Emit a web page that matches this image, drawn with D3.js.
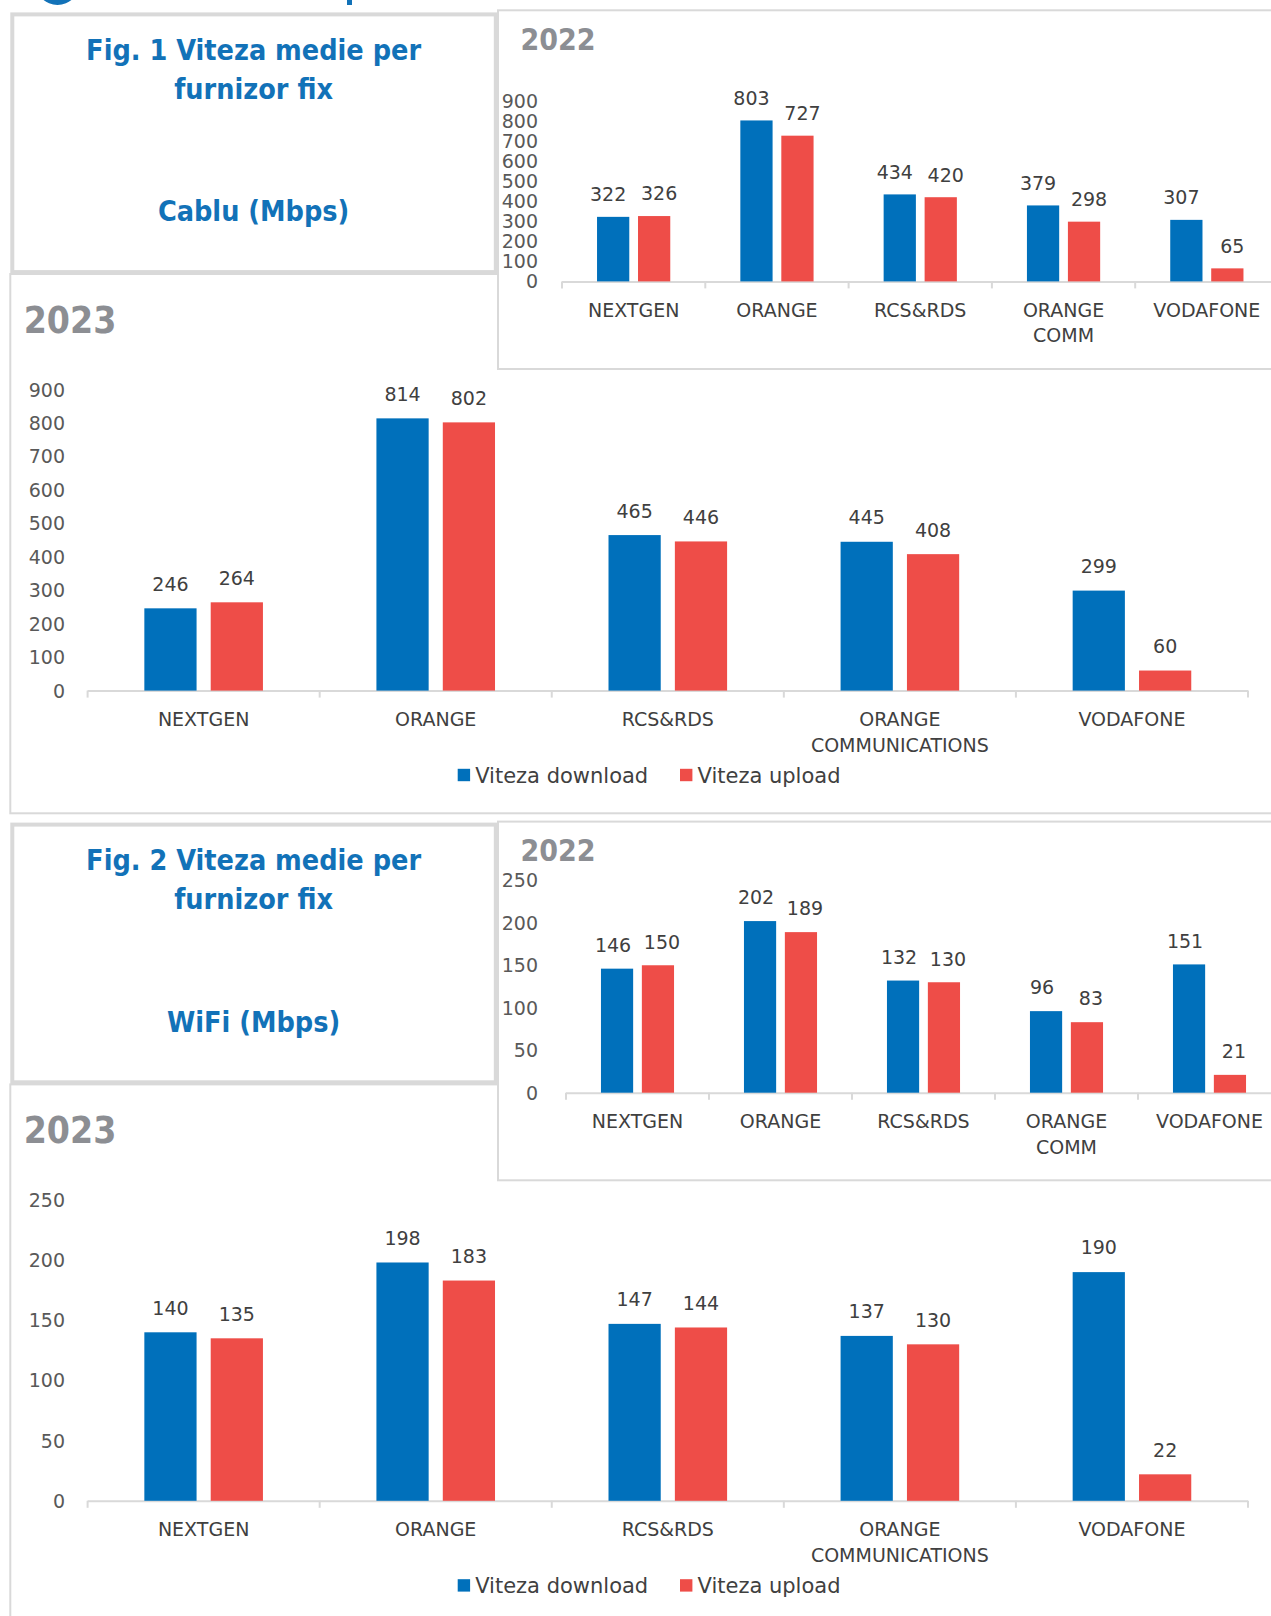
<!DOCTYPE html>
<html>
<head>
<meta charset="utf-8">
<script src="https://cdn.jsdelivr.net/npm/d3@7"></script>
<style>
  html, body { margin: 0; padding: 0; background: #ffffff; }
  svg { display: block; }
  .lbl { font-family: "DejaVu Sans", Verdana, sans-serif; }
  .cond { font-family: "DejaVu Sans Condensed", "DejaVu Sans", sans-serif; font-stretch: condensed; }
</style>
</head>
<body>
<svg id="chart" width="1271" height="1616"></svg>
<script>
// ---------- DATA ----------
const categories2022 = ["NEXTGEN", "ORANGE", "RCS&RDS", "ORANGE\nCOMM", "VODAFONE"];
const categories2023 = ["NEXTGEN", "ORANGE", "RCS&RDS", "ORANGE\nCOMMUNICATIONS", "VODAFONE"];
const seriesNames = ["Viteza download", "Viteza upload"];

const cablu2022Download = [322, 803, 434, 379, 307];
const cablu2022Upload   = [326, 727, 420, 298, 65];
const cablu2023Download = [246, 814, 465, 445, 299];
const cablu2023Upload   = [264, 802, 446, 408, 60];

const wifi2022Download = [146, 202, 132, 96, 151];
const wifi2022Upload   = [150, 189, 130, 83, 21];
const wifi2023Download = [140, 198, 147, 137, 190];
const wifi2023Upload   = [135, 183, 144, 130, 22];

const cabluTicks = [0, 100, 200, 300, 400, 500, 600, 700, 800, 900];
const wifiTicks  = [0, 50, 100, 150, 200, 250];

const figTitles = [
  ["Fig. 1 Viteza medie per", "furnizor fix", "Cablu (Mbps)"],
  ["Fig. 2 Viteza medie per", "furnizor fix", "WiFi (Mbps)"]
];
const yearLabels = ["2022", "2023"];

// ---------- STYLE ----------
const BLUE = "#0070bb";
const RED = "#ee4d48";
const TITLE_BLUE = "#1272b8";
const YEAR_GREY = "#8c8e93";
const TEXT = "#404040";
const BORDER = "#d9d9d9";

const svg = d3.select("#chart");

// header remnants (cut off at top)
svg.append("circle").attr("cx", 57.5).attr("cy", -17).attr("r", 22).attr("fill", TITLE_BLUE);
svg.append("rect").attr("x", 347).attr("y", 0).attr("width", 5).attr("height", 5).attr("fill", TITLE_BLUE);

function box(x, y, w, h, sw) {
  svg.append("rect").attr("x", x).attr("y", y).attr("width", w).attr("height", h)
    .attr("fill", "#fff").attr("stroke", BORDER).attr("stroke-width", sw);
}

function drawChart(cfg) {
  const g = svg.append("g");
  const cats = cfg.categories;
  const x = d3.scaleBand().domain(d3.range(cats.length)).range([cfg.x0, cfg.x1]).padding(0);
  const xs = d3.scaleBand().domain([0, 1]).range([0, x.bandwidth()]).paddingInner(0.213).paddingOuter(0.855);
  const y = d3.scaleLinear().domain([0, cfg.ticks[cfg.ticks.length - 1]]).range([cfg.yBase, cfg.yTop]);

  // y tick labels
  g.selectAll("text.ytick").data(cfg.ticks).join("text")
    .attr("class", "lbl")
    .attr("x", cfg.yLabelX).attr("y", d => y(d) + 7)
    .attr("text-anchor", "end")
    .attr("font-size", 19).attr("fill", "#595959")
    .text(d => d);

  // x axis line + ticks
  g.append("line").attr("x1", cfg.x0).attr("x2", cfg.x1).attr("y1", y(0) + 0.5).attr("y2", y(0) + 0.5)
    .attr("stroke", BORDER).attr("stroke-width", 2);
  g.selectAll("line.xt").data(d3.range(cats.length + 1)).join("line")
    .attr("x1", i => cfg.x0 + i * x.step()).attr("x2", i => cfg.x0 + i * x.step())
    .attr("y1", y(0)).attr("y2", y(0) + 7)
    .attr("stroke", BORDER).attr("stroke-width", 2);

  const series = [cfg.download, cfg.upload];
  const colors = [BLUE, RED];
  series.forEach((vals, s) => {
    g.selectAll("rect.s" + s).data(vals).join("rect")
      .attr("x", (d, i) => x(i) + xs(s)).attr("width", xs.bandwidth())
      .attr("y", d => y(d)).attr("height", d => y(0) - y(d))
      .attr("fill", colors[s]);
    g.selectAll("text.v" + s).data(vals).join("text")
      .attr("class", "lbl")
      .attr("x", (d, i) => x(i) + xs(s) + xs.bandwidth() / 2 + (s === 0 ? -cfg.labelSpread : cfg.labelSpread))
      .attr("y", d => y(d) - cfg.labelGap)
      .attr("text-anchor", "middle").attr("font-size", 19).attr("fill", TEXT)
      .text(d => d);
  });

  // category labels
  cats.forEach((c, i) => {
    c.split("\n").forEach((line, k) => {
      g.append("text").attr("class", "lbl")
        .attr("x", x(i) + x.bandwidth() / 2)
        .attr("y", y(0) + 35.5 + k * 25.5)
        .attr("text-anchor", "middle").attr("font-size", 19).attr("fill", TEXT)
        .text(line);
    });
  });

  // year title
  g.append("text").attr("class", "cond")
    .attr("x", cfg.yearX).attr("y", cfg.yearY)
    .attr("font-weight", "bold").attr("font-size", cfg.yearSize).attr("fill", YEAR_GREY)
    .text(cfg.year);

  if (cfg.legendY) {
    const lg = g.append("g");
    const lx = [457.7, 680];
    seriesNames.forEach((n, s) => {
      lg.append("rect").attr("x", lx[s]).attr("y", cfg.legendY - 6.2).attr("width", 12.4).attr("height", 12.4).attr("fill", colors[s]);
      lg.append("text").attr("class", "lbl").attr("x", lx[s] + 17.5).attr("y", cfg.legendY + 7.6)
        .attr("font-size", 21).attr("fill", TEXT).text(n);
    });
  }
}

function figBox(lines, top) {
  const g = svg.append("g");
  const ys = [top + 55.5, top + 94.5, top + 217];
  lines.forEach((t, i) => {
    g.append("text").attr("class", "cond")
      .attr("x", 253.6).attr("y", ys[i])
      .attr("text-anchor", "middle").attr("font-weight", "bold").attr("font-size", 28.5)
      .attr("fill", TITLE_BLUE).text(t);
  });
}

// ---------- FIGURE 1 (Cablu) ----------
box(10.3, 274, 1300, 539.3, 2);          // 2023 box
box(498, 10.3, 800, 358.7, 2);           // 2022 box
box(12.3, 14.4, 483.5, 257.7, 4);        // title box
figBox(figTitles[0], 14.4 - 10);

drawChart({
  categories: categories2022, download: cablu2022Download, upload: cablu2022Upload,
  ticks: cabluTicks, x0: 562, x1: 562 + 143.3 * 5, yBase: 281.4, yTop: 101,
  yLabelX: 538, labelGap: 15.7, labelSpread: 5, year: yearLabels[0], yearX: 520.5, yearY: 50, yearSize: 30
});
drawChart({
  categories: categories2023, download: cablu2023Download, upload: cablu2023Upload,
  ticks: cabluTicks, x0: 87.6, x1: 1248, yBase: 690.6, yTop: 389.6,
  yLabelX: 65, labelGap: 17.5, labelSpread: 0, year: yearLabels[1], yearX: 23.7, yearY: 333, yearSize: 37,
  legendY: 775
});

// ---------- FIGURE 2 (WiFi) ----------
box(10.3, 1084.4, 1300, 600, 2);         // 2023 box
box(498, 821.6, 800, 358.7, 2);          // 2022 box
box(12.3, 824.6, 483.5, 257.7, 4);       // title box
figBox(figTitles[1], 824.6 - 10);

drawChart({
  categories: categories2022, download: wifi2022Download, upload: wifi2022Upload,
  ticks: wifiTicks, x0: 566, x1: 566 + 143 * 5, yBase: 1092.7, yTop: 880.3,
  yLabelX: 538, labelGap: 16.7, labelSpread: 4, year: yearLabels[0], yearX: 520.5, yearY: 861, yearSize: 30
});
drawChart({
  categories: categories2023, download: wifi2023Download, upload: wifi2023Upload,
  ticks: wifiTicks, x0: 87.6, x1: 1248, yBase: 1500.8, yTop: 1199.9,
  yLabelX: 65, labelGap: 17.7, labelSpread: 0, year: yearLabels[1], yearX: 23.7, yearY: 1143, yearSize: 37,
  legendY: 1585.4
});
</script>
</body>
</html>
